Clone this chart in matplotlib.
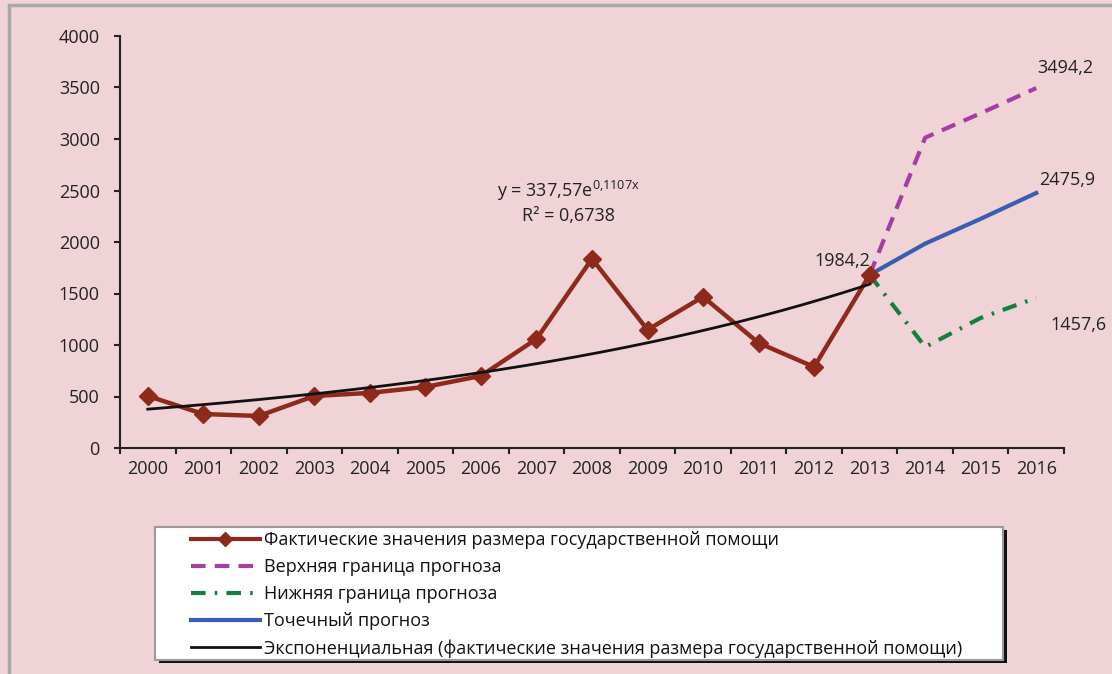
import numpy as np
import matplotlib
matplotlib.use("Agg")
import matplotlib.pyplot as plt
from matplotlib.patches import Rectangle
from matplotlib.lines import Line2D

plt.rcParams['font.family'] = ['Open Sans', 'DejaVu Sans']
plt.rcParams['mathtext.fontset'] = 'custom'
plt.rcParams['mathtext.rm'] = 'Open Sans'
plt.rcParams['mathtext.it'] = 'Open Sans'

years = [str(y) for y in range(2000, 2017)]
actual_years = list(range(2000, 2014))
actual = [505, 330, 311, 505, 535, 593, 700, 1059, 1837, 1147, 1468, 1020, 787, 1681]
fc_years = [2013, 2014, 2015, 2016]
upper = [1681, 3013, 3250, 3494.2]
point = [1681, 1984.2, 2225, 2475.9]
lower = [1681, 981, 1263, 1457.6]
trend_a, trend_b = 337.57, 0.1107
labels_legend = [
    "Фактические значения размера государственной помощи",
    "Верхняя граница прогноза",
    "Нижняя граница прогноза",
    "Точечный прогноз",
    "Экспоненциальная (фактические значения размера государственной помощи)",
]

BG = '#efd3d6'
RED = '#8e2a1c'
PURPLE = '#a43fa2'
GREEN = '#13803f'
BLUE = '#3a5db0'
W, H = 1112, 674

fig = plt.figure(figsize=(11.12, 6.74), dpi=100, facecolor=BG)
# outer gray frame
fig.add_artist(Rectangle((8.5/W, -0.1), 1.2, 1 - 5/H + 0.1, transform=fig.transFigure,
                         fill=False, edgecolor='#a8a8a8', linewidth=2.5))

ax = fig.add_axes([120/W, 1-448/H, (1064-120)/W, (448-36)/H])
ax.set_facecolor(BG)

idx = {y: i for i, y in enumerate(range(2000, 2017))}
xa = [idx[y] for y in actual_years]
xf = [idx[y] for y in fc_years]

ax.plot(xf, upper, color=PURPLE, lw=3, dashes=(3.5, 2.2), zorder=3)
ax.plot(xf, lower, color=GREEN, lw=3, dashes=(3.5, 2.2, 0.6, 2.2), zorder=3)
ax.plot(xf, point, color=BLUE, lw=3, zorder=3)
ax.plot(xa, actual, color=RED, lw=3.2, marker='D', markersize=9.5, zorder=4)
xt = np.linspace(0, len(actual_years) - 1, 200)
ax.plot(xt, trend_a * np.exp(trend_b * (xt + 1)), color='#111111', lw=2, zorder=5)

ax.set_xlim(-0.5, 16.5)
ax.set_ylim(0, 4000)
ax.set_yticks(range(0, 4001, 500))
ax.set_xticks(range(17))
ax.set_xticklabels(years)
ax.set_xticks(np.arange(-0.5, 17, 1), minor=True)
ax.tick_params(axis='x', which='major', length=0, pad=9, labelsize=13, colors='#222222')
ax.tick_params(axis='x', which='minor', length=4.5, width=1.5, direction='out', color='#222222')
ax.tick_params(axis='y', length=4.5, width=1.5, direction='out', pad=10, labelsize=13,
               colors='#222222')
for s in ['top', 'right']:
    ax.spines[s].set_visible(False)
for s in ['left', 'bottom']:
    ax.spines[s].set_linewidth(1.5)
    ax.spines[s].set_color('#222222')

tc = '#222222'
ax.text(idx[2008] - 0.42, 2500, r"y = 337,57e$^{\mathrm{0{,}1107x}}$", fontsize=13, color=tc,
        ha='center', va='center')
ax.text(idx[2008] - 0.42, 2250, "R² = 0,6738", fontsize=13, color=tc, ha='center', va='center')
ax.text(idx[2013] - 0.5, 1820, "1984,2", fontsize=13, color=tc, ha='center', va='center')
ax.text(idx[2016] + 0.55, 2600, "2475,9", fontsize=13, color=tc, ha='center', va='center')
ax.text(idx[2016] + 0.52, 3690, "3494,2", fontsize=13, color=tc, ha='center', va='center')
ax.text(idx[2016] + 0.76, 1195, "1457,6", fontsize=13, color=tc, ha='center', va='center')

# legend frame with black shadow
lx0, lx1, ly0, ly1 = 155, 1003, 527, 660
fig.add_artist(Rectangle(((lx0 + 4)/W, 1 - (ly1 + 3)/H), (lx1 - lx0)/W, (ly1 - ly0)/H,
                         transform=fig.transFigure, facecolor='#111111', edgecolor='none', zorder=1))
fig.add_artist(Rectangle((lx0/W, 1 - ly1/H), (lx1 - lx0)/W, (ly1 - ly0)/H,
                         transform=fig.transFigure, facecolor='white', edgecolor='#9a9a9a',
                         linewidth=1.5, zorder=2))

handles = [
    Line2D([0, 0.5, 1], [0, 0, 0], color=RED, lw=3, marker='D', markersize=7, markevery=[1]),
    Line2D([], [], color=PURPLE, lw=3, dashes=(3.5, 2.2)),
    Line2D([], [], color=GREEN, lw=3, dashes=(3.5, 2.2, 0.6, 2.2)),
    Line2D([], [], color=BLUE, lw=3),
    Line2D([], [], color='#111111', lw=2),
]
leg = fig.legend(handles, labels_legend, loc='upper left',
                 bbox_to_anchor=(191/W, 1 - 531/H),
                 frameon=False, fontsize=13,
                 handlelength=3.8, handletextpad=0.25, labelspacing=0.5,
                 borderpad=0, borderaxespad=0)
leg.set_zorder(3)
for t in leg.get_texts():
    t.set_color('#111111')

fig.savefig('out.png', dpi=100, facecolor=BG)
